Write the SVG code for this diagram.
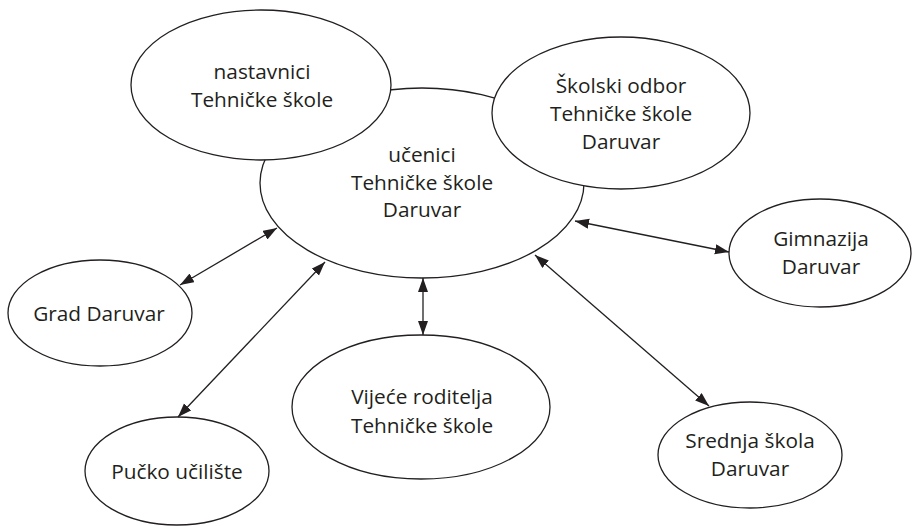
<svg xmlns="http://www.w3.org/2000/svg" width="912" height="526" viewBox="0 0 912 526">
<style>
.node ellipse{fill:#fff;stroke:#231f20;stroke-width:1.3}
.node text{font-family:"Open Sans","Noto Sans","Liberation Sans",sans-serif;font-size:20.8px;fill:#231f20;text-anchor:middle}
.conn line{stroke:#231f20;stroke-width:1.3;marker-start:url(#ah);marker-end:url(#ah)}
</style>
<defs>
<marker id="ah" markerUnits="userSpaceOnUse" markerWidth="15" markerHeight="11" refX="14" refY="5" orient="auto-start-reverse">
<path d="M0,0 L14,5 L0,10 z" fill="#231f20"/>
</marker>
</defs>
<rect width="912" height="526" fill="#fff"/>
<g id="ucenici" class="node">
<ellipse cx="422" cy="183" rx="162" ry="95"/>
<text x="422" y="162">učenici</text>
<text x="422" y="190">Tehničke škole</text>
<text x="422" y="217">Daruvar</text>
</g>
<g id="nastavnici" class="node">
<ellipse cx="261" cy="85" rx="130" ry="75"/>
<text x="262" y="79">nastavnici</text>
<text x="262" y="107">Tehničke škole</text>
</g>
<g id="skolski-odbor" class="node">
<ellipse cx="621" cy="113" rx="129" ry="76"/>
<text x="621" y="93">Školski odbor</text>
<text x="621" y="121">Tehničke škole</text>
<text x="621" y="149">Daruvar</text>
</g>
<g id="gimnazija" class="node">
<ellipse cx="820" cy="253" rx="91" ry="54"/>
<text x="821" y="246">Gimnazija</text>
<text x="821" y="274">Daruvar</text>
</g>
<g id="grad" class="node">
<ellipse cx="100" cy="313" rx="92" ry="53"/>
<text x="99" y="321">Grad Daruvar</text>
</g>
<g id="vijece" class="node">
<ellipse cx="421" cy="407" rx="129" ry="72"/>
<text x="422" y="404">Vijeće roditelja</text>
<text x="422" y="433">Tehničke škole</text>
</g>
<g id="pucko" class="node">
<ellipse cx="177" cy="471" rx="92" ry="54"/>
<text x="177" y="479">Pučko učilište</text>
</g>
<g id="srednja" class="node">
<ellipse cx="750" cy="455" rx="92" ry="53"/>
<text x="750" y="448">Srednja škola</text>
<text x="750" y="476">Daruvar</text>
</g>
<g id="connectors" class="conn">
<line x1="180" y1="285" x2="277" y2="228"/>
<line x1="178" y1="417" x2="325" y2="262"/>
<line x1="423" y1="335" x2="423" y2="278"/>
<line x1="709" y1="406" x2="535" y2="255"/>
<line x1="729" y1="252" x2="575" y2="221"/>
</g>
</svg>
